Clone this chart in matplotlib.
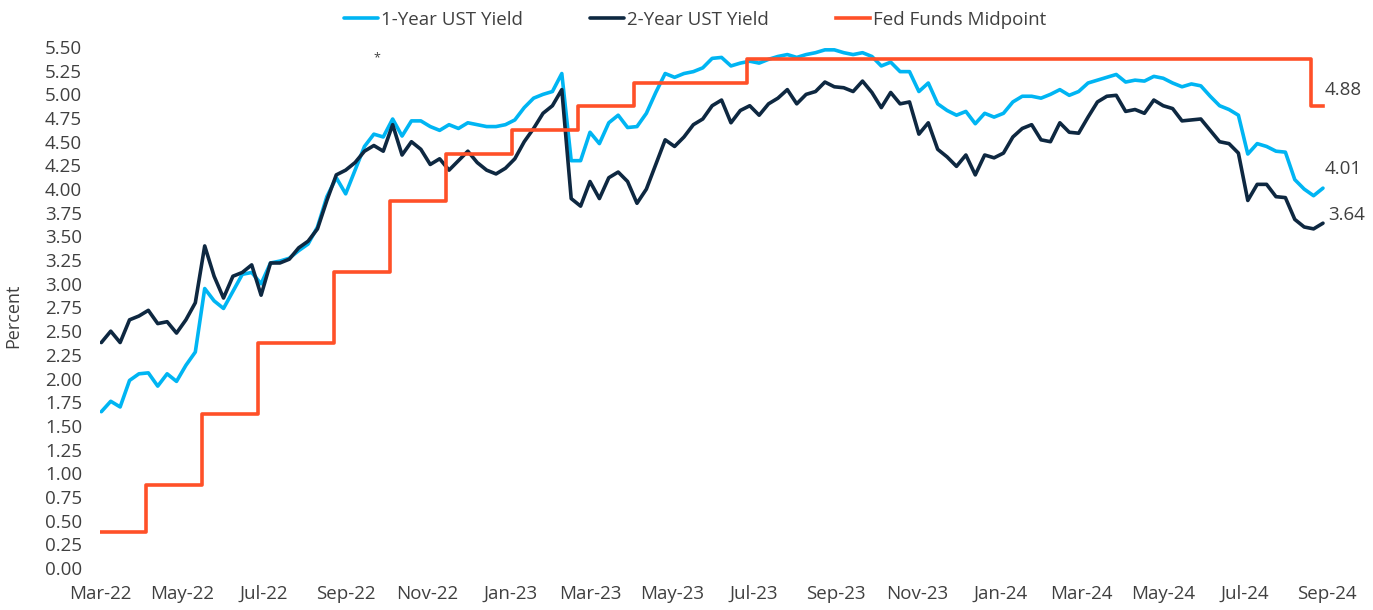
import matplotlib
matplotlib.use("Agg")
import matplotlib.pyplot as plt
import pandas as pd

plt.rcParams['font.family'] = ['Open Sans', 'DejaVu Sans']

# weekly closes (Fridays)
dates = pd.date_range('2022-04-01', '2024-09-27', freq='W-FRI')

ust_1y = [
    1.65, 1.76, 1.70, 1.98, 2.05, 2.06, 1.92, 2.05, 1.97, 2.14,
    2.28, 2.95, 2.82, 2.74, 2.92, 3.10, 3.12, 3.00, 3.22, 3.24,
    3.27, 3.35, 3.42, 3.60, 3.92, 4.12, 3.95, 4.20, 4.45, 4.58,
    4.55, 4.74, 4.56, 4.72, 4.72, 4.66, 4.62, 4.68, 4.64, 4.70,
    # 2023
    4.68, 4.66, 4.66, 4.68, 4.73, 4.86, 4.96, 5.00, 5.03, 5.22,
    4.30, 4.30, 4.60, 4.48, 4.70, 4.78, 4.65, 4.66, 4.80, 5.02,
    5.22, 5.18, 5.22, 5.24, 5.28, 5.38, 5.39, 5.30, 5.33, 5.35,
    5.33, 5.37, 5.40, 5.42, 5.39, 5.42, 5.44, 5.47, 5.47, 5.44,
    5.42, 5.44, 5.40, 5.30, 5.34, 5.24, 5.24, 5.03, 5.12, 4.90,
    4.83, 4.78,
    # 2024
    4.82, 4.69, 4.80, 4.76, 4.80, 4.92, 4.98, 4.98, 4.96, 5.00,
    5.05, 4.99, 5.03, 5.12, 5.15, 5.18, 5.21, 5.13, 5.15, 5.14,
    5.19, 5.17, 5.12, 5.08, 5.11, 5.09, 4.98, 4.88, 4.84, 4.78,
    4.37, 4.48, 4.45, 4.40, 4.39, 4.10, 4.00, 3.93, 4.01,
]

ust_2y = [
    2.38, 2.50, 2.38, 2.62, 2.66, 2.72, 2.58, 2.60, 2.48, 2.62,
    2.80, 3.40, 3.08, 2.85, 3.08, 3.12, 3.20, 2.88, 3.22, 3.22,
    3.26, 3.38, 3.45, 3.58, 3.88, 4.15, 4.20, 4.28, 4.40, 4.46,
    4.40, 4.68, 4.36, 4.50, 4.42, 4.26, 4.32, 4.20, 4.30, 4.40,
    # 2023
    4.28, 4.20, 4.16, 4.22, 4.32, 4.50, 4.64, 4.80, 4.88, 5.05,
    3.90, 3.82, 4.08, 3.90, 4.12, 4.18, 4.08, 3.85, 4.00, 4.26,
    4.52, 4.45, 4.55, 4.68, 4.74, 4.88, 4.94, 4.70, 4.83, 4.88,
    4.78, 4.90, 4.96, 5.05, 4.90, 5.00, 5.03, 5.13, 5.08, 5.07,
    5.03, 5.14, 5.02, 4.86, 5.02, 4.90, 4.92, 4.58, 4.70, 4.42,
    4.34, 4.24,
    # 2024
    4.36, 4.15, 4.36, 4.33, 4.38, 4.55, 4.64, 4.68, 4.52, 4.50,
    4.70, 4.60, 4.59, 4.76, 4.92, 4.98, 4.99, 4.82, 4.84, 4.80,
    4.94, 4.88, 4.85, 4.72, 4.73, 4.74, 4.62, 4.50, 4.48, 4.38,
    3.88, 4.05, 4.05, 3.92, 3.91, 3.68, 3.60, 3.58, 3.64,
]

# FOMC decisions -> target range midpoint
ffr_dates = pd.to_datetime([
    '2022-04-01', '2022-05-04', '2022-06-15', '2022-07-27', '2022-09-21',
    '2022-11-02', '2022-12-14', '2023-02-01', '2023-03-22', '2023-05-03',
    '2023-07-26', '2024-09-18', '2024-09-27',
])
ffr_mid = [0.375, 0.875, 1.625, 2.375, 3.125, 3.875, 4.375, 4.625, 4.875,
           5.125, 5.375, 4.875, 4.875]

light_blue = '#00b5f3'
navy = '#0e2841'
orange = '#ff5028'
grey = '#404040'

fig = plt.figure(figsize=(13.73, 6.10), dpi=100)
ax = fig.add_axes([100 / 1373, 1 - 568 / 610, 1227 / 1373, 521 / 610])

line_kw = dict(lw=2.6, solid_joinstyle='round', solid_capstyle='round')
ax.plot(dates, ust_1y, color=light_blue, label='1-Year UST Yield', **line_kw)
ax.plot(dates, ust_2y, color=navy, label='2-Year UST Yield', **line_kw)
ax.step(ffr_dates, ffr_mid, where='post', color=orange,
        label='Fed Funds Midpoint', lw=2.6)

ax.set_xlim(pd.Timestamp('2022-03-31'), pd.Timestamp('2024-09-30'))
ax.set_ylim(0, 5.5)
ax.set_yticks([i * 0.25 for i in range(23)])
ax.yaxis.set_major_formatter(plt.FuncFormatter(lambda v, p: f'{v:.2f}'))

ticks = pd.date_range('2022-03-31', '2024-09-30', freq='2ME')
ax.set_xticks(ticks)
ax.set_xticklabels([t.strftime('%b-%y') for t in ticks])

ax.tick_params(axis='both', length=0, labelsize=13.5, colors=grey)
ax.tick_params(axis='y', pad=13)
ax.tick_params(axis='x', pad=12)
for s in ax.spines.values():
    s.set_visible(False)

# end-of-series labels
ax.annotate(f'{ffr_mid[-1]:.2f}', (ffr_dates[-1], ffr_mid[-1]),
            xytext=(2, 16), textcoords='offset pixels', va='center',
            fontsize=13.5, color=grey)
ax.annotate(f'{ust_1y[-1]:.2f}', (dates[-1], ust_1y[-1]),
            xytext=(2, 19), textcoords='offset pixels', va='center',
            fontsize=13.5, color=grey)
ax.annotate(f'{ust_2y[-1]:.2f}', (dates[-1], ust_2y[-1]),
            xytext=(5, 8), textcoords='offset pixels', va='center',
            fontsize=13.5, color=grey)

fig.text(13 / 1373, 1 - 316 / 610, 'Percent', rotation=90, ha='center',
         va='center', fontsize=13, color=grey)
fig.text(377 / 1373, 1 - 58 / 610, '*', ha='center', va='center',
         fontsize=9, color=grey)

fig.legend(loc='center', bbox_to_anchor=(695 / 1373, 1 - 20 / 610), ncol=3,
           frameon=False, fontsize=13.5, handlelength=1.8, handletextpad=0.15,
           columnspacing=3.6, labelcolor=grey)

fig.savefig('out.png', dpi=100)
